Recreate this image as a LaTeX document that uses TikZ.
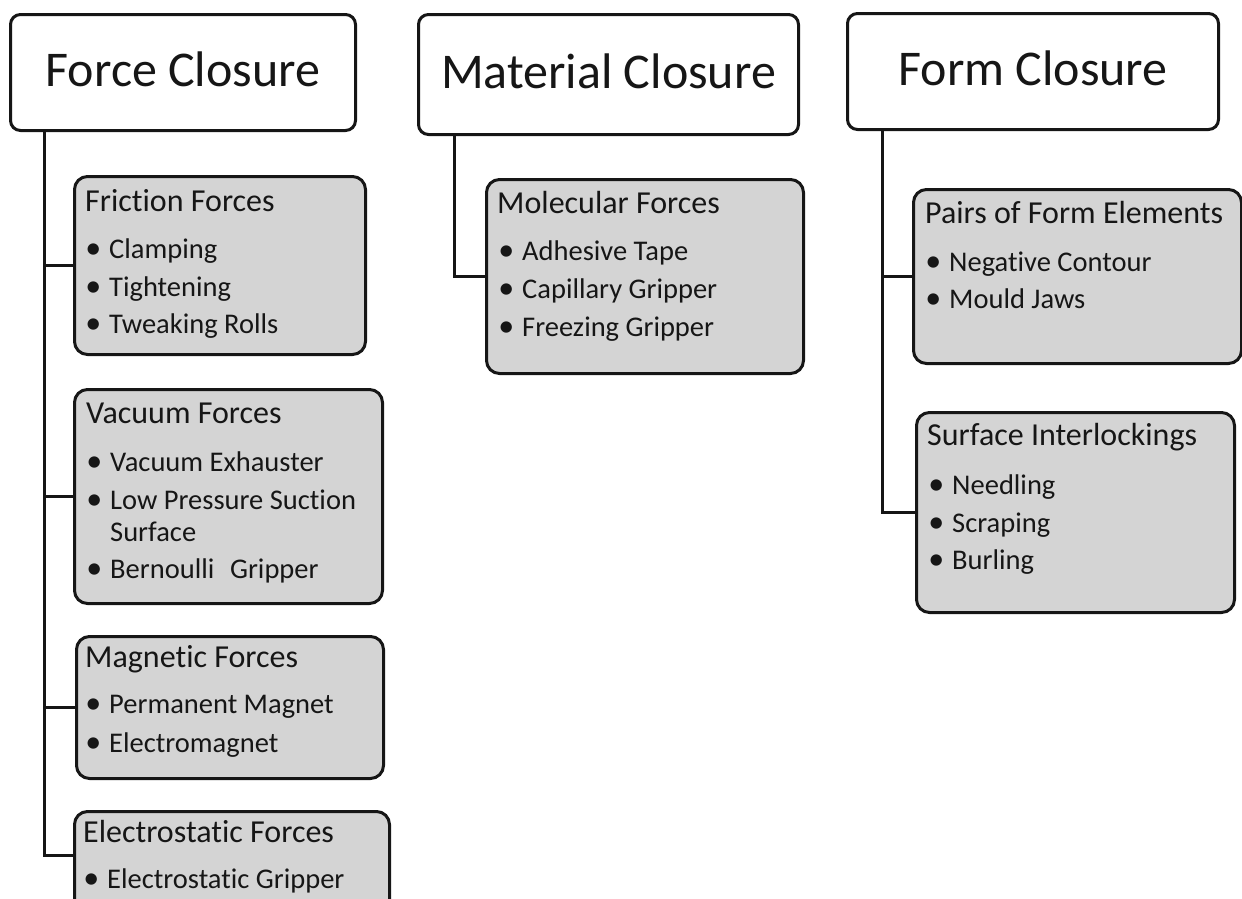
\documentclass[tikz,border=0pt]{standalone}
\usepackage{fontspec}
\setmainfont{Carlito}[Ligatures={NoCommon}]
\definecolor{boxgray}{RGB}{212,212,212}
\definecolor{ink}{RGB}{22,22,22}
\begin{document}
\begin{tikzpicture}[x=1pt,y=-1pt,
  titlebox/.style={draw=ink, line width=3pt, rounded corners=10pt, fill=white,
    font=\fontsize{50}{60}\selectfont, text=ink, inner sep=0pt, text depth=7pt,
    anchor=north west},
  groupbox/.style={draw=ink, line width=3pt, rounded corners=13pt, fill=boxgray,
    inner sep=0pt, anchor=north west},
  head/.style={anchor=base west, inner sep=0pt, font=\fontsize{32}{38}\selectfont, text=ink},
  line/.style={anchor=base west, inner sep=0pt, font=\fontsize{28.5}{34}\selectfont, text=ink},
  item/.style={line, execute at begin node={\llap{{\fontsize{32}{34}\selectfont\textbullet}\kern 8pt}}},
  link/.style={draw=ink, line width=3pt}
]
\useasboundingbox (0,0) rectangle (1242,898);
\clip (0,0) rectangle (1242,898);

% ---- top-level categories ----
\node[titlebox, minimum width=345pt, minimum height=116pt] (fc) at (9,13)   {Force Closure};
\node[titlebox, minimum width=380pt, minimum height=120pt] (mc) at (417,13) {Material Closure};
\node[titlebox, minimum width=371pt, minimum height=116pt] (fm) at (846,12) {Form Closure};

% ---- grey group boxes ----
\node[groupbox, minimum width=291pt, minimum height=178pt] (fric) at (73,175) {};
\node[groupbox, minimum width=308pt, minimum height=214pt] (vac)  at (73,388) {};
\node[groupbox, minimum width=307pt, minimum height=142pt] (mag)  at (75,635) {};
\node[groupbox, minimum width=315pt, minimum height=110pt] (elec) at (73,810) {};
\node[groupbox, minimum width=317pt, minimum height=194pt] (mol)  at (485,178) {};
\node[groupbox, minimum width=328pt, minimum height=174pt] (pair) at (912,188) {};
\node[groupbox, minimum width=318pt, minimum height=200pt] (surf) at (915,411) {};

% ---- tree connectors ----
\coordinate (ftrunk) at ([xshift=35pt]fc.south west);
\coordinate (mtrunk) at ([xshift=37pt]mc.south west);
\coordinate (otrunk) at ([xshift=36pt]fm.south west);
\coordinate (elecin) at ([yshift=-45pt]elec.north west);
\draw[link] (ftrunk) |- (fric.west);
\draw[link] (ftrunk) |- (vac.west);
\draw[link] (ftrunk) |- (mag.west);
\draw[link] (ftrunk) |- (elecin);
\draw[link] (mtrunk) |- (mol.west);
\draw[link] (otrunk) |- (pair.west);
\draw[link] (otrunk) |- (surf.west);

% ---- Friction Forces ----
\node[head] (h1) at (85,211) {Friction Forces};
\node[item] (i11) at (109,258) {Clamping};
\node[item] (i12) at (109,296) {Tightening};
\node[item] (i13) at (109,333) {Tweaking Rolls};

% ---- Vacuum Forces ----
\node[head] (h2) at (86,423) {Vacuum Forces};
\node[item] (i21) at (110,471) {Vacuum Exhauster};
\node[item] (i22) at (110,509) {Low Pressure Suction};
\node[line] (i22b) at (110,541) {Surface};
\node[item] (i23) at (110,578) {Bernoulli\hspace{0.55em}Gripper};

% ---- Magnetic Forces ----
\node[head] (h3) at (85,667) {Magnetic Forces};
\node[item] (i31) at (109,713) {Permanent Magnet};
\node[item] (i32) at (109,752) {Electromagnet};

% ---- Electrostatic Forces ----
\node[head] (h4) at (83,842) {Electrostatic Forces};
\node[item] (i41) at (107,888) {Electrostatic Gripper};

% ---- Molecular Forces ----
\node[head] (h5) at (497,213) {Molecular Forces};
\node[item] (i51) at (522,260) {Adhesive Tape};
\node[item] (i52) at (522,298) {Capillary Gripper};
\node[item] (i53) at (522,336) {Freezing Gripper};

% ---- Pairs of Form Elements ----
\node[head] (h6) at (925,223) {Pairs of Form Elements};
\node[item] (i61) at (949,271) {Negative Contour};
\node[item] (i62) at (949,308) {Mould Jaws};

% ---- Surface Interlockings ----
\node[head] (h7) at (927,445) {Surface Interlockings};
\node[item] (i71) at (952,494) {Needling};
\node[item] (i72) at (952,532) {Scraping};
\node[item] (i73) at (952,569) {Burling};
\end{tikzpicture}
\end{document}
